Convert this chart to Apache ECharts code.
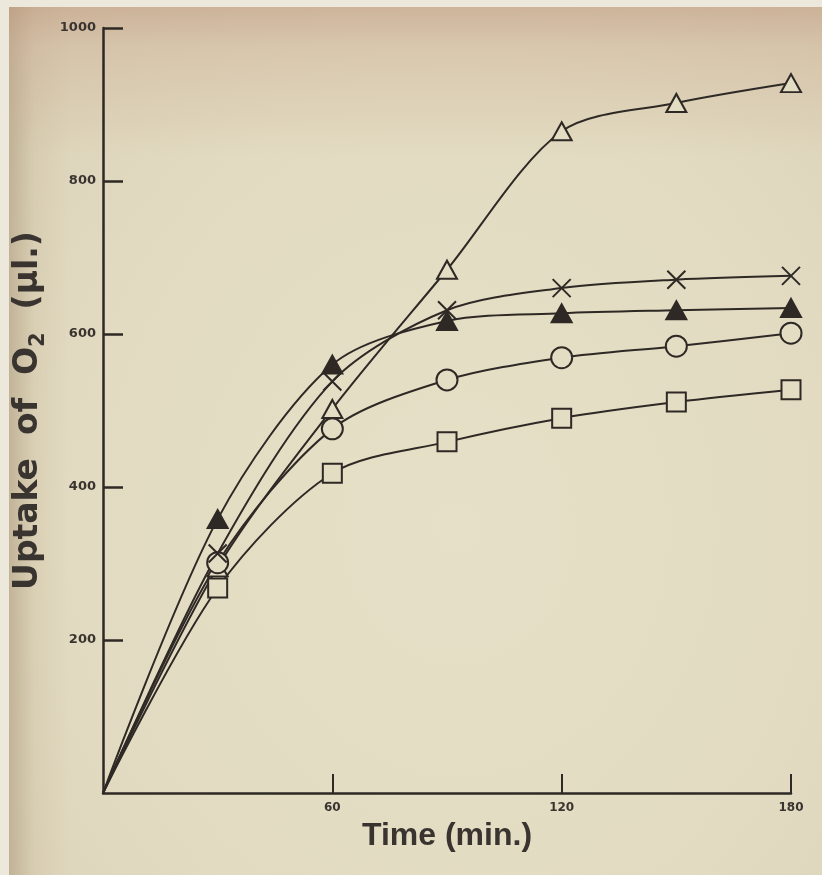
<!DOCTYPE html>
<html>
<head>
<meta charset="utf-8">
<script src="https://cdn.jsdelivr.net/npm/echarts@6/dist/echarts.min.js"></script>
<style>
html,body{margin:0;padding:0;width:822px;height:875px;overflow:hidden;background:#ece9dc;}
#paper{position:absolute;left:9px;top:7px;width:813px;height:868px;
background:
 linear-gradient(to bottom, rgba(190,150,125,0.55) 0px, rgba(200,165,140,0.35) 40px, rgba(210,185,160,0.0) 150px),
 linear-gradient(to right, rgba(170,150,120,0.55) 0px, rgba(190,170,140,0.2) 25px, rgba(200,180,150,0) 60px),
 radial-gradient(ellipse at 55% 60%, #e5e0c7 0%, #e2dbc1 60%, #dad1b7 100%);}
#chart{position:absolute;left:0;top:0;width:822px;height:875px;}
</style>
</head>
<body>
<div id="paper"></div>
<div id="chart"></div>
<script>
// Data
var timeMin = [0, 30, 60, 90, 120, 150, 180];
var openTriangle = [0, 295, 502, 684, 865, 902, 928];
var crossMark = [0, 313, 538, 631, 660, 671, 676];
var filledTriangle = [0, 358, 560, 617, 627, 631, 634];
var openCircle = [0, 301, 476, 540, 569, 584, 601];
var openSquare = [0, 268, 418, 459, 490, 511, 527];
var xTicks = [60, 120, 180];
var yTicks = [200, 400, 600, 800, 1000];

var ink = '#2e2925';
var paper = '#e3ddc4';

function pts(vals) {
  return timeMin.map(function (t, i) {
    var d = { value: [t, vals[i]] };
    if (i === 0) d.symbol = 'none';
    return d;
  });
}

function mkSeries(name, vals, symbol, size, fill) {
  return {
    name: name,
    type: 'line',
    data: pts(vals),
    smooth: 0.3,
    symbol: symbol,
    symbolSize: size,
    showAllSymbol: true,
    lineStyle: { color: ink, width: 2 },
    itemStyle: { color: fill, borderColor: ink, borderWidth: 2, opacity: 1 },
    emphasis: { disabled: true },
    z: 3
  };
}

var chart = echarts.init(document.getElementById('chart'), null, { renderer: 'canvas' });
chart.setOption({
  animation: false,
  backgroundColor: 'transparent',
  grid: { left: 103, right: 31, top: 28, bottom: 82, containLabel: false },
  xAxis: {
    type: 'value', min: 0, max: 180, interval: 60,
    name: 'Time (min.)', nameLocation: 'middle', nameGap: 27,
    nameTextStyle: { fontFamily: 'Liberation Sans', fontWeight: 'bold', fontSize: 32, color: '#3a3430' },
    axisLine: { show: true, lineStyle: { color: ink, width: 2.5 } },
    axisTick: { show: true, inside: true, length: 19, lineStyle: { color: ink, width: 2 },
      customValues: xTicks },
    axisLabel: { margin: 9, fontFamily: 'DejaVu Sans', fontWeight: 'bold', fontSize: 12, color: '#3a3430',
      customValues: xTicks,
      formatter: function (v) { return v === 0 ? '' : String(v); } },
    splitLine: { show: false }
  },
  yAxis: {
    type: 'value', min: 0, max: 1000, interval: 200,
    name: '{m|Uptake  of  O}{s|2}{m|  (µl.)}', nameLocation: 'middle', nameGap: 43, nameRotate: 90,
    nameTextStyle: {
      rich: {
        m: { fontFamily: 'DejaVu Sans', fontWeight: 'bold', fontSize: 33, color: '#3a3430', lineHeight: 40, verticalAlign: 'middle' },
        s: { fontFamily: 'DejaVu Sans', fontWeight: 'bold', fontSize: 21, color: '#3a3430', lineHeight: 22, verticalAlign: 'bottom' }
      }
    },
    axisLine: { show: true, lineStyle: { color: ink, width: 2.5 } },
    axisTick: { show: true, inside: true, length: 20, lineStyle: { color: ink, width: 2.5 },
      customValues: yTicks },
    axisLabel: { margin: 7, fontFamily: 'DejaVu Sans', fontWeight: 'bold', fontSize: 13, color: '#3a3430',
      customValues: yTicks,
      formatter: function (v) { return v === 0 ? '' : String(v); } },
    splitLine: { show: false }
  },
  series: [
    mkSeries('open triangle', openTriangle, 'triangle', [20, 18], paper),
    mkSeries('open square', openSquare, 'rect', 19, paper),
    mkSeries('open circle', openCircle, 'circle', 21, paper),
    mkSeries('filled triangle', filledTriangle, 'triangle', [20, 18], ink),
    mkSeries('cross', crossMark, 'path://M0,0L10,10M10,0L0,10', 18, 'rgba(0,0,0,0)')
  ]
});
</script>
</body>
</html>
